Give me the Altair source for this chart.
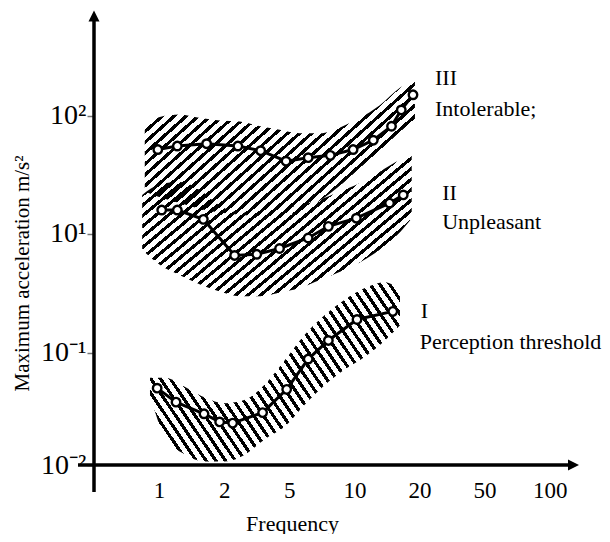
import json
import numpy as np
import pandas as pd
import altair as alt

FONT = "Liberation Serif"

# ---- axis ticks (the original draws these at equal steps) ----
x_tick_labels = ["1", "2", "5", "10", "20", "50", "100"]
x_tick_pos = [0, 1, 2, 3, 4, 5, 6]
y_tick_labels = ["10⁻²", "10⁻¹", "10¹", "10²"]
y_tick_pos = [0.0, 0.965, 1.985, 3.0]

# ---- curves (x in frequency-axis steps, y in acceleration-axis units) ----
iii_x = [-0.02, 0.28, 0.73, 1.21, 1.56, 1.95, 2.29, 2.63, 2.98, 3.29, 3.57, 3.72, 3.90]
iii_y = [2.71, 2.74, 2.76, 2.74, 2.70, 2.61, 2.64, 2.66, 2.71, 2.79, 2.91, 3.05, 3.18]
ii_x = [0.04, 0.28, 0.68, 1.16, 1.50, 1.85, 2.29, 2.60, 3.03, 3.54, 3.75]
ii_y = [2.19, 2.19, 2.11, 1.80, 1.81, 1.86, 1.95, 2.05, 2.12, 2.25, 2.32]
i_x = [-0.03, 0.26, 0.69, 0.93, 1.13, 1.59, 1.96, 2.29, 2.60, 3.04, 3.59]
i_y = [0.66, 0.54, 0.44, 0.37, 0.36, 0.45, 0.65, 0.91, 1.07, 1.25, 1.32]

# ---- hatched scatter bands (upper / lower edges) ----
b3_x = [-0.22, 0.01, 0.32, 0.63, 0.93, 1.24, 1.55, 1.85, 2.16, 2.47, 2.78, 3.08, 3.39, 3.70, 3.93]
b3_hi = [2.92, 2.99, 3.01, 2.98, 2.96, 2.95, 2.91, 2.88, 2.85, 2.85, 2.90, 2.98, 3.09, 3.24, 3.31]
b3_lo = [2.35, 2.30, 2.25, 2.20, 2.17, 2.15, 2.14, 2.14, 2.18, 2.27, 2.40, 2.55, 2.70, 2.86, 2.97]
b2_x = [-0.26, 0.01, 0.32, 0.63, 0.93, 1.24, 1.55, 1.85, 2.16, 2.47, 2.78, 3.08, 3.39, 3.70, 3.88]
b2_hi = [2.32, 2.41, 2.43, 2.36, 2.23, 2.17, 2.17, 2.21, 2.23, 2.28, 2.35, 2.42, 2.52, 2.62, 2.66]
b2_lo = [1.85, 1.72, 1.63, 1.55, 1.49, 1.45, 1.45, 1.48, 1.52, 1.59, 1.66, 1.74, 1.85, 2.00, 2.12]
b1_x = [-0.14, 0.09, 0.40, 0.70, 1.01, 1.32, 1.62, 1.93, 2.24, 2.55, 2.85, 3.16, 3.47, 3.70]
b1_hi = [0.75, 0.75, 0.67, 0.58, 0.53, 0.56, 0.69, 0.90, 1.12, 1.29, 1.42, 1.52, 1.57, 1.50]
b1_lo = [0.60, 0.24, 0.09, 0.03, 0.03, 0.09, 0.22, 0.33, 0.52, 0.69, 0.82, 0.93, 1.07, 1.20]

label_text = ["III", "Intolerable;", "II", "Unpleasant", "I", "Perception threshold"]
label_series = ["III", "III", "II", "II", "I", "I"]

# ---- layout ----
W, H = 485, 454
X_DOM = [-1.0, 6.45]
Y_DOM = [0.0, 3.9]
PX_X = W / (X_DOM[1] - X_DOM[0])
PX_Y = H / (Y_DOM[1] - Y_DOM[0])

x_expr = "%s[indexof(%s, datum.value)]" % (json.dumps(x_tick_labels), json.dumps(x_tick_pos))
y_expr = "%s[indexof(%s, datum.value)]" % (json.dumps(y_tick_labels), json.dumps(y_tick_pos))

X = alt.X("x:Q", scale=alt.Scale(domain=X_DOM, nice=False, zero=False),
          axis=alt.Axis(values=x_tick_pos, labelExpr=x_expr, labelFontSize=23, labelFont=FONT,
                        ticks=False, tickSize=0, labelPadding=14, labelFlush=False,
                        title="Frequency", titleFont=FONT, titleFontSize=22,
                        titleFontWeight="normal", titleX=198, titleY=65,
                        titleAlign="center", titleBaseline="alphabetic"))
Y = alt.Y("y:Q", scale=alt.Scale(domain=Y_DOM, nice=False, zero=False),
          axis=alt.Axis(values=y_tick_pos, labelExpr=y_expr, labelFontSize=28, labelFont=FONT,
                        tickSize=7, tickColor="#777", tickWidth=1.5, labelPadding=1,
                        labelFlush=False,
                        title="Maximum acceleration m/s²", titleFont=FONT, titleFontSize=21,
                        titleFontWeight="normal",
                        titleAngle=270, titleX=-72, titleY=262,
                        titleAlign="center", titleBaseline="middle"))


def hatch(xs, lo, hi, angle_deg, direction, spacing=8.0, duty=0.4):
    """Diagonal stripe fill (a style): a striped linear gradient over the band's box."""
    w = (max(xs) - min(xs)) * PX_X
    h = (max(hi) - min(lo)) * PX_Y
    th = np.radians(angle_deg)
    A = w * np.sin(th)
    B = h * np.cos(th)
    k = (A + B) / (A * A + B * B)
    a, b = k * A, k * B
    n = int(round((A + B) / spacing))
    clear = "rgba(255,255,255,0)"
    stops = []
    for j in range(n):
        s0, s1, s2 = j / n, (j + 1 - duty) / n, (j + 1) / n
        stops += [{"offset": s0, "color": clear}, {"offset": s1, "color": clear},
                  {"offset": s1, "color": "black"}, {"offset": s2, "color": "black"}]
    if direction == "/":
        return {"gradient": "linear", "x1": 0, "y1": 0, "x2": float(a), "y2": float(b), "stops": stops}
    return {"gradient": "linear", "x1": 0, "y1": 1, "x2": float(a), "y2": float(1 - b), "stops": stops}


layers = []
for bx, blo, bhi, ang, d in [(b3_x, b3_lo, b3_hi, 42, "/"),
                             (b2_x, b2_lo, b2_hi, 40, "/"),
                             (b1_x, b1_lo, b1_hi, 56, "\\")]:
    df = pd.DataFrame({"x": bx, "y": bhi, "y2": blo})
    layers.append(alt.Chart(df).mark_area(interpolate="monotone", fill=hatch(bx, blo, bhi, ang, d),
                                          stroke=None).encode(x=X, y=Y, y2="y2:Q"))

curves = pd.concat([
    pd.DataFrame({"x": iii_x, "y": iii_y, "series": "III"}),
    pd.DataFrame({"x": ii_x, "y": ii_y, "series": "II"}),
    pd.DataFrame({"x": i_x, "y": i_y, "series": "I"}),
], ignore_index=True)
curves["order"] = curves.index

layers.append(alt.Chart(curves).mark_line(color="black", strokeWidth=3).encode(
    x=X, y=Y, detail="series:N", order="order:Q"))
layers.append(alt.Chart(curves).mark_point(shape="circle", filled=True, fill="white", stroke="black",
                                            strokeWidth=2.4, size=72, opacity=1).encode(x=X, y=Y))

# labels anchored to the last point of each curve
last = {"III": (iii_x[-1], iii_y[-1]), "II": (ii_x[-1], ii_y[-1]), "I": (i_x[-1], i_y[-1])}
offsets = [(22, -10), (22, 21), (39, 5), (39, 34), (28, 7), (27, 38)]
for t, s, (dx, dy) in zip(label_text, label_series, offsets):
    df = pd.DataFrame({"x": [last[s][0]], "y": [last[s][1]], "t": [t]})
    layers.append(alt.Chart(df).mark_text(align="left", baseline="alphabetic", dx=dx, dy=dy,
                                          font=FONT, fontSize=22, color="black").encode(
        x=X, y=Y, text="t:N"))

# axis lines with arrowheads
one = alt.Data(values=[{"k": 0}])
layers.append(alt.Chart(one).mark_rule(color="black", strokeWidth=3.5).encode(
    x=alt.value(0), y=alt.value(8), y2=alt.value(481)))
layers.append(alt.Chart(one).mark_rule(color="black", strokeWidth=3.5).encode(
    x=alt.value(-16), x2=alt.value(476), y=alt.value(454)))
layers.append(alt.Chart(one).mark_point(shape="M0,-1L1,1L-1,1Z", filled=True, color="black",
                                         size=121, opacity=1).encode(x=alt.value(0), y=alt.value(5)))
layers.append(alt.Chart(one).mark_point(shape="M1,0L-1,1L-1,-1Z", filled=True, color="black",
                                         size=121, opacity=1).encode(x=alt.value(479.5), y=alt.value(454)))

chart = alt.layer(*layers).properties(
    width=W, height=H,
    padding={"left": 86, "top": 3, "right": 23, "bottom": 69},
    autosize=alt.AutoSizeParams(type="none"),
    background="white",
).configure_view(stroke=None).configure_axis(
    grid=False, domain=False, labelFont=FONT, titleFont=FONT,
    labelColor="black", titleColor="black", titleFontWeight="normal",
)

chart.save("out.html", embed_options={"renderer": "svg", "actions": False})
